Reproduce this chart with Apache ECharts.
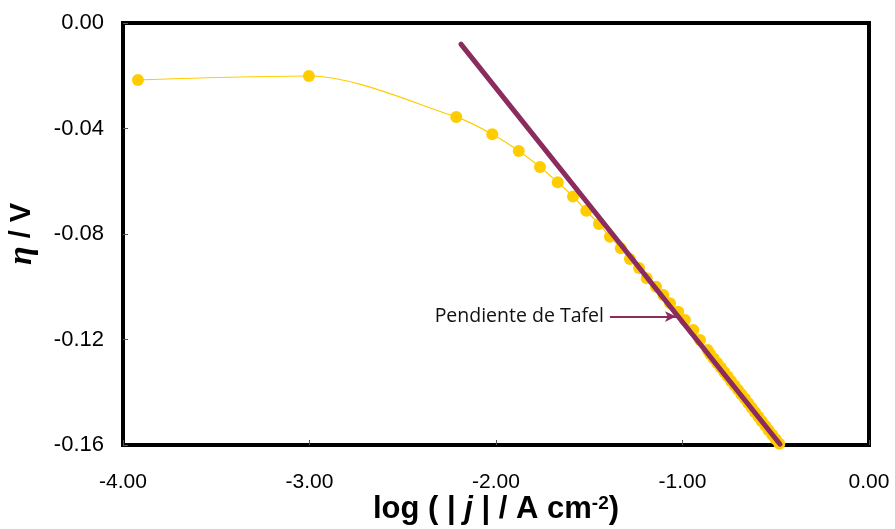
<!DOCTYPE html>
<html>
<head>
<meta charset="utf-8">
<script src="https://cdn.jsdelivr.net/npm/echarts@6/dist/echarts.min.js"></script>
<style>
  html, body { margin: 0; padding: 0; background: #fff; }
  #chart { width: 895px; height: 529px; }
</style>
</head>
<body>
<div id="chart"></div>
<script>
// log |j| (A cm-2) and overpotential (V)
const logJ = [
  -3.920, -3.003, -2.213, -2.020, -1.878, -1.764, -1.669, -1.587, -1.516,
  -1.448, -1.389, -1.331, -1.282, -1.233, -1.192, -1.142, -1.103, -1.067,
  -1.023, -0.987, -0.942, -0.906, -0.865, -0.852, -0.833, -0.814, -0.795,
  -0.776, -0.758, -0.740, -0.721, -0.702, -0.684, -0.665, -0.647, -0.629,
  -0.611, -0.593, -0.575, -0.556, -0.538, -0.519, -0.500, -0.481
];
const eta = [
  -0.0216, -0.0201, -0.0356, -0.0422, -0.0485, -0.0546, -0.0604, -0.0658, -0.0712,
  -0.0762, -0.0810, -0.0854, -0.0895, -0.0929, -0.0968, -0.1000, -0.1031, -0.1063,
  -0.1095, -0.1126, -0.1164, -0.1202, -0.1240, -0.1255, -0.1272, -0.1289, -0.1306,
  -0.1323, -0.1340, -0.1357, -0.1374, -0.1391, -0.1408, -0.1425, -0.1442, -0.1459,
  -0.1476, -0.1493, -0.1510, -0.1527, -0.1544, -0.1561, -0.1578, -0.1595
];

// Tafel fit, end points
const tafelX = [-2.188, -0.477];
const tafelY = [-0.0080, -0.1597];

// annotation arrow (start / tip)
const arrowX = [-1.389, -1.035];
const arrowY = -0.1113;

const chart = echarts.init(document.getElementById('chart'));

const option = {
  animation: false,
  backgroundColor: '#fff',
  grid: {
    left: 123,
    right: 26,
    top: 23,
    bottom: 84,
    outerBoundsMode: 'none',
    containLabel: false,
    show: true,
    borderColor: '#000',
    borderWidth: 4
  },
  xAxis: {
    type: 'value',
    min: -4,
    max: 0,
    interval: 1,
    name: 'log ( | {j|j} | / A cm{sup|-2})',
    nameLocation: 'middle',
    nameGap: 49,
    nameMoveOverlap: false,
    nameTextStyle: {
      fontFamily: 'Liberation Sans',
      fontSize: 31,
      fontWeight: 'bold',
      color: '#000',
      rich: {
        j: { fontFamily: 'Liberation Sans', fontSize: 31, fontWeight: 'bold', fontStyle: 'italic', color: '#000' },
        sup: { fontFamily: 'Liberation Sans', fontSize: 19, fontWeight: 'bold', color: '#000', verticalAlign: 'top' }
      }
    },
    splitLine: { show: false },
    axisLine: { show: true, onZero: false, lineStyle: { color: '#000', width: 4 } },
    axisTick: { show: true, inside: true, length: 5, lineStyle: { color: '#555', width: 1 } },
    axisLabel: {
      margin: 27,
      fontFamily: 'Liberation Sans',
      fontSize: 21,
      color: '#000',
      formatter: (v) => v.toFixed(2)
    }
  },
  yAxis: {
    type: 'value',
    min: -0.16,
    max: 0,
    interval: 0.04,
    name: '{eta|η} / V',
    nameLocation: 'middle',
    nameGap: 84,
    nameMoveOverlap: false,
    nameTextStyle: {
      fontFamily: 'Liberation Sans',
      fontSize: 29,
      fontWeight: 'bold',
      color: '#000',
      rich: {
        eta: { fontFamily: 'Liberation Serif', fontSize: 34, fontStyle: 'italic', color: '#000' }
      }
    },
    splitLine: { show: false },
    axisLine: { show: true, onZero: false, lineStyle: { color: '#000', width: 4 } },
    axisTick: { show: true, inside: true, length: 5, lineStyle: { color: '#555', width: 1 } },
    axisLabel: {
      margin: 19,
      fontFamily: 'Liberation Sans',
      fontSize: 22,
      color: '#000',
      formatter: (v) => v.toFixed(2)
    }
  },
  series: [
    {
      name: 'medido',
      type: 'line',
      smooth: 0.3,
      symbol: 'circle',
      symbolSize: 12,
      data: logJ.map((x, i) => [x, eta[i]]),
      itemStyle: { color: '#FFCC00' },
      lineStyle: { color: '#FFCC00', width: 1.2 },
      z: 2
    },
    {
      name: 'Tafel',
      type: 'line',
      symbol: 'none',
      data: tafelX.map((x, i) => [x, tafelY[i]]),
      lineStyle: { color: '#8C2B5E', width: 5, cap: 'round' },
      z: 3,
      markLine: {
        silent: true,
        symbol: ['none', 'arrow'],
        symbolSize: [8, 11],
        lineStyle: { color: '#8C2B5E', width: 2, type: 'solid' },
        label: {
          show: true,
          position: 'start',
          distance: 6,
          formatter: 'Pendiente de Tafel',
          fontFamily: 'Open Sans',
          fontSize: 19.5,
          color: '#111'
        },
        data: [
          [
            { coord: [arrowX[0], arrowY] },
            { coord: [arrowX[1], arrowY] }
          ]
        ]
      }
    }
  ]
};

chart.setOption(option);
</script>
</body>
</html>
